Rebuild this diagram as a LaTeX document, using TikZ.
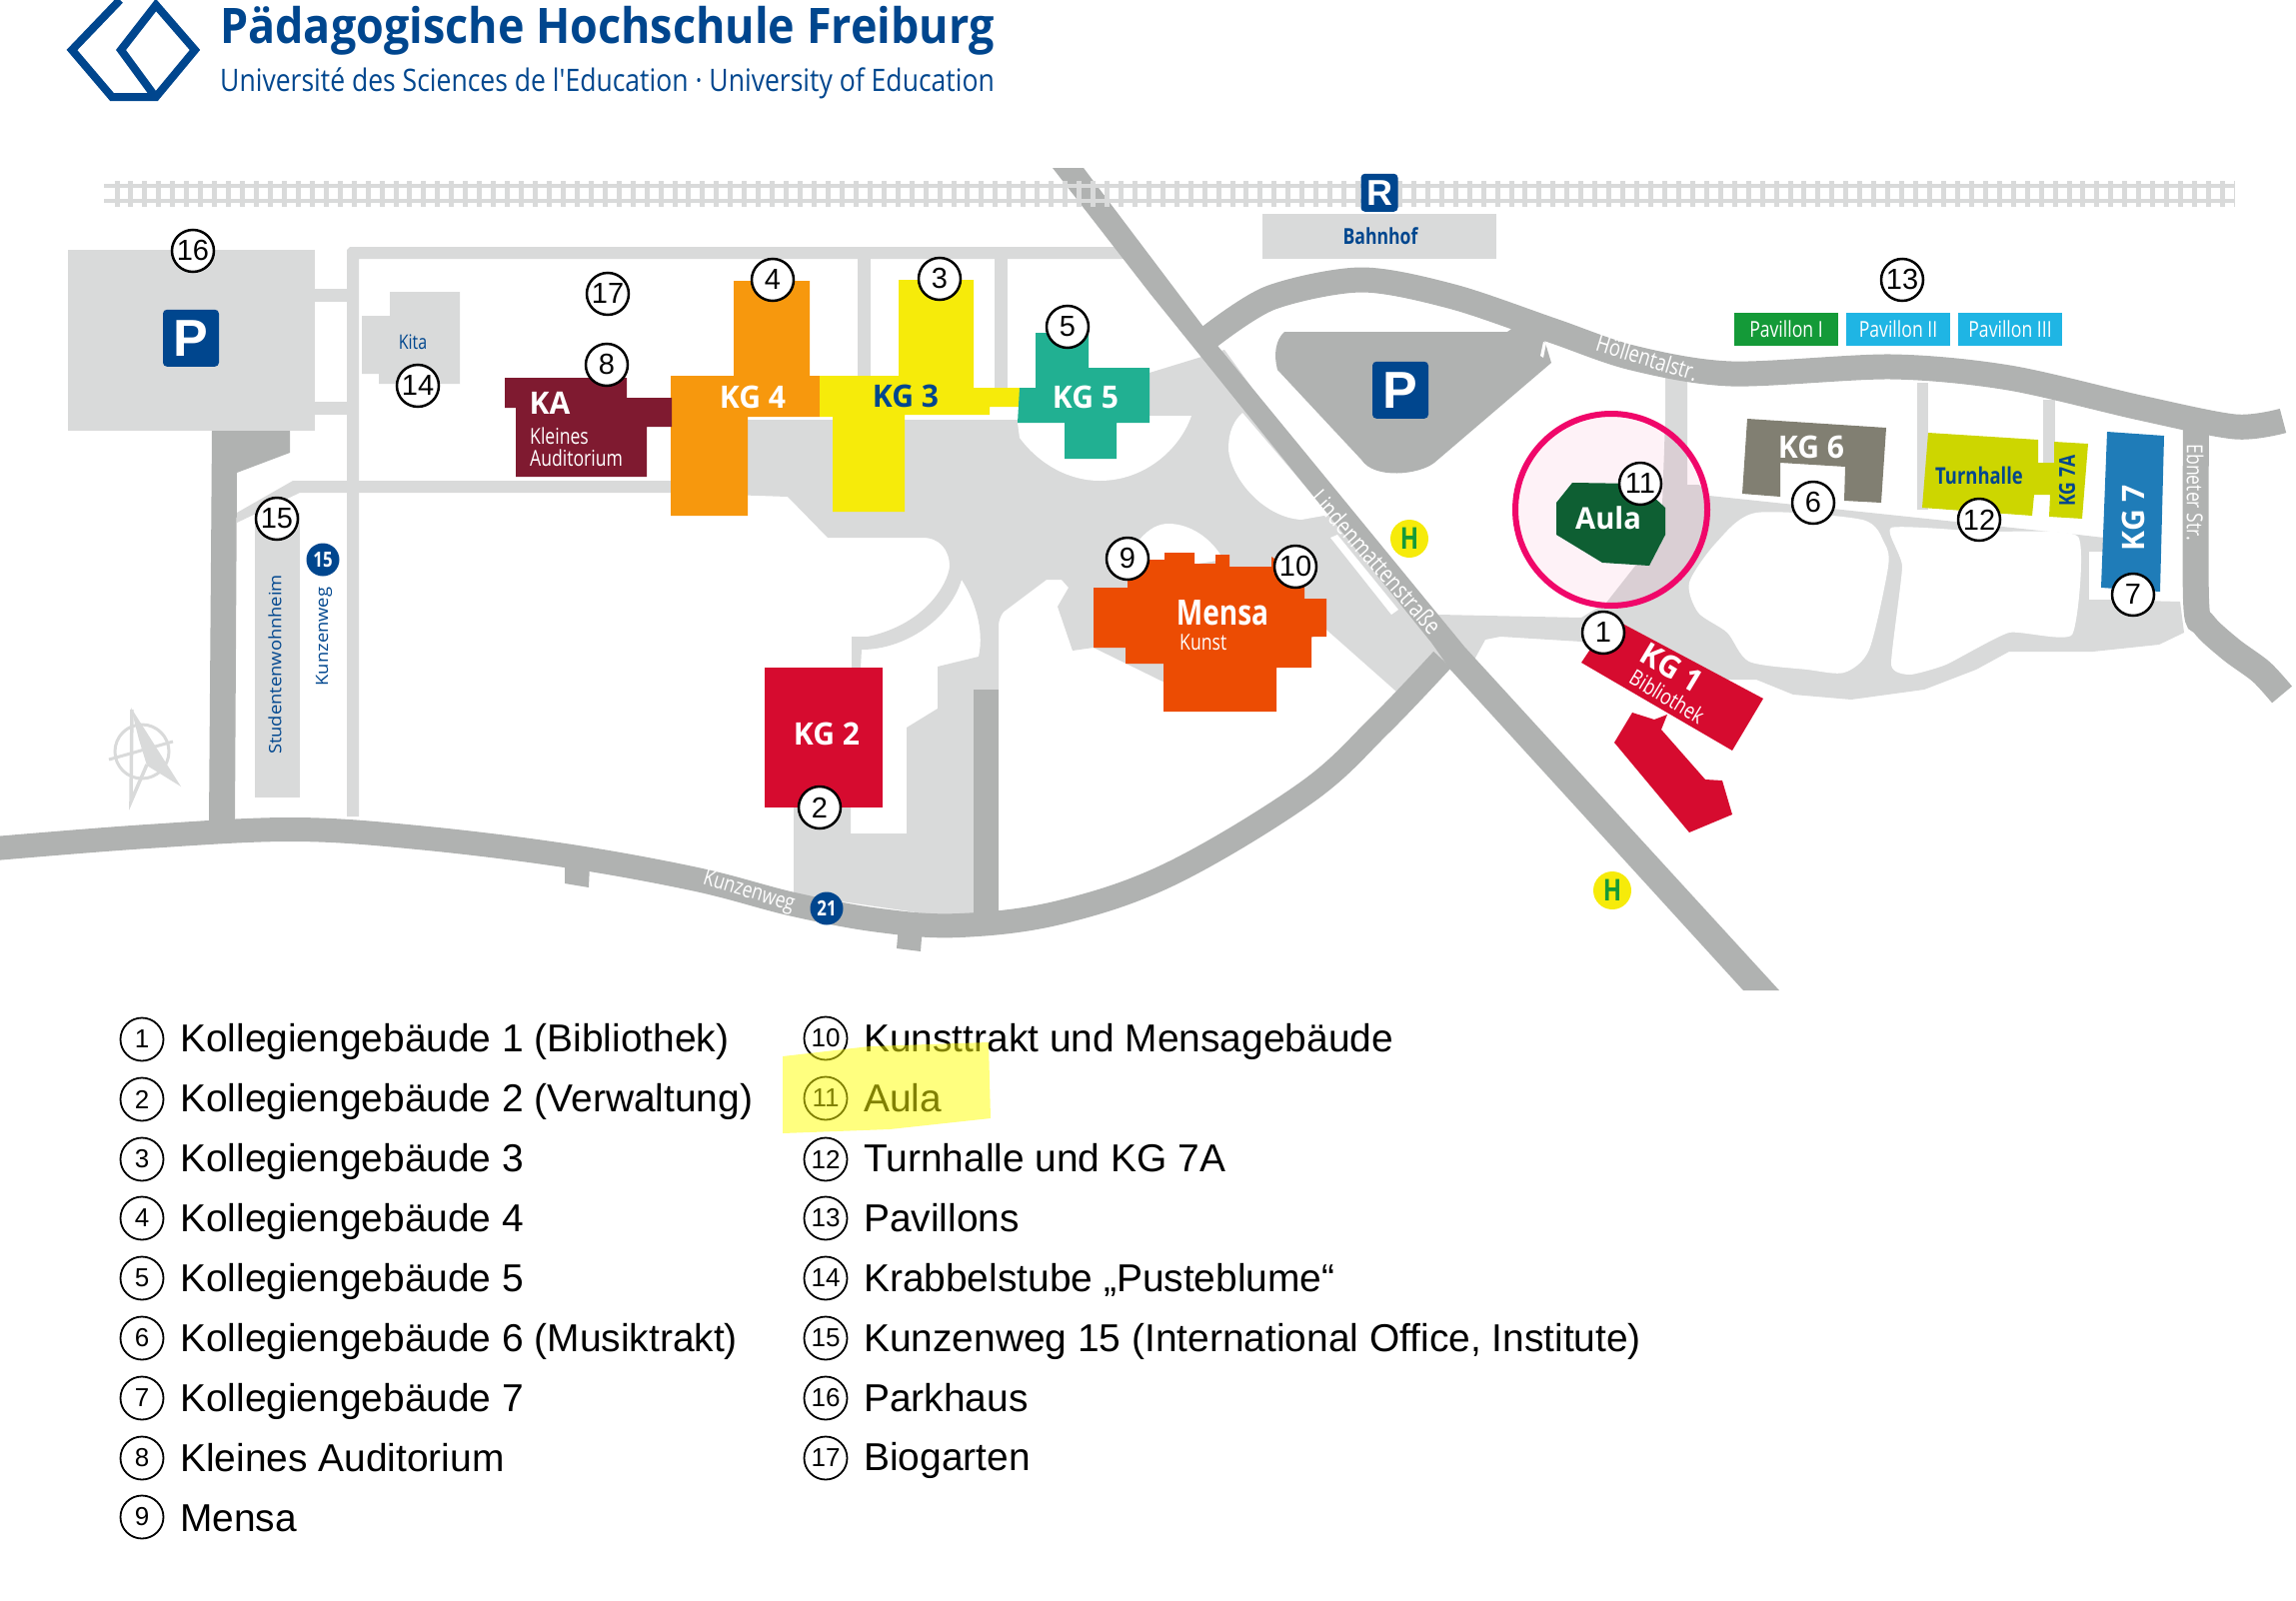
\documentclass[tikz,border=0pt]{standalone}
\usepackage{fontspec}
\setmainfont{Liberation Sans}
\newfontfamily\mapfont[FakeStretch=0.8]{Open Sans}
\newfontfamily\kgfont[FakeStretch=0.97]{Open Sans}
\newfontfamily\titlefont[FakeStretch=0.916]{Open Sans}
\newfontfamily\logofont[FakeStretch=0.856]{Open Sans}
\newfontfamily\widefont[FakeStretch=1.08]{Open Sans}
\newcommand{\sized}[1]{\fontsize{#1}{#1}\selectfont}
\definecolor{roadlight}{HTML}{D9DADA}
\definecolor{roaddark}{HTML}{B0B2B1}
\definecolor{phblue}{HTML}{00468E}
\definecolor{kgorange}{HTML}{F7980D}
\definecolor{kgyellow}{HTML}{F6EB0A}
\definecolor{kgteal}{HTML}{21B092}
\definecolor{kgwine}{HTML}{7F1A30}
\definecolor{kgred}{HTML}{D60B2F}
\definecolor{kgmensa}{HTML}{EC4C03}
\definecolor{kgtaupe}{HTML}{817F72}
\definecolor{kglime}{HTML}{CDD600}
\definecolor{kgblue}{HTML}{1F7CB8}
\definecolor{aulagreen}{HTML}{0E5F33}
\definecolor{pavgreen}{HTML}{149A38}
\definecolor{pavcyan}{HTML}{1FB5E4}
\definecolor{ringpink}{HTML}{F0076A}
\definecolor{hilite}{HTML}{FFFF00}
\tikzset{
  mapnum/.style={circle,draw=black,fill=white,line width=2.5pt,minimum size=42pt,inner sep=0pt,font=\sized{29}},
  legnum/.style={circle,draw=black,line width=1.8pt,minimum size=43pt,inner sep=0pt,font=\sized{26}},
  legtext/.style={anchor=base west,inner sep=0pt,font=\sized{38.9}},
  maplabel/.style={inner sep=0pt,text=white,font=\mapfont\sized{23}},
  kglabel/.style={inner sep=0pt,text=white,font=\kgfont\bfseries\sized{31}},
  stopsign/.style={circle,fill=kgyellow,text=pavgreen,minimum size=38pt,inner sep=0pt,font=\mapfont\bfseries\sized{30}},
  busstop/.style={circle,fill=phblue,text=white,minimum size=33pt,inner sep=0pt,font=\mapfont\bfseries\sized{21}},
  pavbox/.style={minimum width=104pt,minimum height=33pt,inner sep=0pt,text=white,font=\mapfont\sized{22}}
}
\begin{document}
\begin{tikzpicture}[x=1pt,y=-1pt]
\useasboundingbox (0,0) rectangle (2297,1601);
\draw[phblue,line width=8pt,line join=miter] (120,0) -- (72,50) -- (112,97) -- (156,97) -- (195,50) -- (156,5) -- (121,50) -- (154,95);
\node[anchor=base west,inner sep=0pt,text=phblue,font=\titlefont\bfseries\sized{49}] (title) at (220,43) {Pädagogische Hochschule Freiburg};
\node[anchor=base west,inner sep=0pt,text=phblue,font=\logofont\sized{31}] (subtitle) at (220,91) {Université des Sciences de l'Education · University of Education};
\fill[roadlight] (68,250) rectangle (315,431);
\fill[roadlight] (315,289) rectangle (350,302);
\fill[roadlight] (315,402) rectangle (350,415);
\fill[roadlight] (347,250) -- (350,247) -- (1126,247) -- (1126,259) -- (359,259) -- (359,817) -- (347,817) -- cycle;
\fill[roadlight] (858,259) rectangle (871,380);
\fill[roadlight] (995,259) rectangle (1008,390);
\fill[roadlight] (293,481) -- (680,481) -- (680,493) -- (300,493) -- (237,523) -- (237,513) -- cycle;
\fill[roadlight] (390,292) -- (460,292) -- (460,384) -- (379,384) -- (379,374) -- (362,374) -- (362,316) -- (390,316) -- cycle;
\fill[roadlight] (255,513) rectangle (300,798);
\fill[roadlight] (1263,214) rectangle (1497,259);
\fill[roadlight] (671,493) -- (788,497) -- (828,538) -- (923,538) .. controls (940,538) and (950,550) .. (950,567) .. controls (948,585) and (925,625) .. (868,637) -- (852,637) -- (852,668) -- (861,668) -- (862,650) .. controls (905,650) and (950,620) .. (962,580) .. controls (975,600) and (985,630) .. (979,657) -- (938,667) -- (938,709) -- (907,728) -- (907,834) -- (851,834) -- (851,808) -- (794,808) -- (794,895) -- (999,925) -- (999,625) .. controls (1000,617) and (1003,612) .. (1007,610) -- (1047,580) -- (1062,580) -- (1069,588) -- (1058,607) -- (1073,651) -- (1094,648) -- (1200,700) -- (1327,630) -- (1397,692) -- (1450,660) -- (1225,350) -- (1150,373) -- (1150,400) -- (1020,400) -- (1020,420) -- (671,420) -- cycle;
\fill[white] (1018,423) -- (1020,438) .. controls (1040,465) and (1070,481) .. (1100,481) .. controls (1145,481) and (1180,450) .. (1192,416) -- (1018,416) -- cycle;
\fill[white] (1243,413) .. controls (1230,425) and (1229,440) .. (1229,450) .. controls (1232,480) and (1265,518) .. (1302,520) -- (1330,515) -- cycle;
\fill[white] (1128,575) -- (1140,540) .. controls (1150,528) and (1160,524) .. (1169,524) .. controls (1190,524) and (1212,538) .. (1224,560) -- cycle;
\fill[white] (1331,538) -- (1338,535) -- (1399,610) -- (1392,615) -- cycle;
\fill[roadlight] (1666,375) -- (1688,375) -- (1688,485) -- (1700,485) -- (1710,496) -- (2079,535) -- (2105,538) -- (2105,600) -- (2181,602) -- (2185,633) -- (2160,645) -- (2094,652) -- (2010,652) -- (1977,670) -- (1925,690) -- (1852,700) -- (1794,695) -- (1757,680) -- (1640,680) -- (1582,642) -- (1501,637) -- (1486,640) -- (1475,660) -- (1450,640) -- (1439,615) -- (1582,618) -- (1607,603) -- (1662,533) -- (1666,420) -- cycle;
\fill[white] (2090,552) rectangle (2110,600);
\fill[white] plot[smooth cycle,tension=.45] coordinates {(1757,513) (1863,520) (1885,543) (1889,567) (1870,650) (1845,673) (1808,670) (1750,662) (1728,633) (1699,613) (1690,583) (1717,543)};
\fill[white] plot[smooth cycle,tension=.3] coordinates {(1892,528) (1985,532) (2079,537) (2073,635) (2010,633) (1947,665) (1911,675) (1892,665) (1903,567)};
\fill[roadlight] (1918,383) rectangle (1929,510);
\fill[roadlight] (2044,400) rectangle (2056,465);
\draw[roaddark,line width=24pt] plot[smooth,tension=.6] coordinates {(-5,849) (147,837) (293,830) (418,838) (565,856) (697,880) (794,905) (880,921) (960,926) (1060,913) (1172,874) (1307,793) (1381,725) (1443,660)};
\fill[roaddark] (565,860) -- (590,865) -- (589,888) -- (565,884) -- cycle;
\fill[roaddark] (899,925) -- (923,925) -- (921,952) -- (897,949) -- cycle;
\fill[roaddark] (212,431) -- (290,431) -- (290,453) -- (237,473) -- (235,825) -- (209,825) -- cycle;
\fill[roaddark] (974,690) rectangle (999,925);
\draw[roaddark,line width=25pt] plot[smooth,tension=.5] coordinates {(1210,337) (1271,298) (1362,280) (1454,297) (1554,331) (1633,358) (1732,374) (1892,367) (2010,378) (2141,408) (2236,427) (2284,421)};
\draw[roaddark,line width=26pt] plot[smooth,tension=.5] coordinates {(2197,420) (2197,600) (2205,625) (2232,650) (2262,672) (2283,695)};
\fill[roaddark] (1285,332) -- (1508,332) -- (1518,325) -- (1545,340) -- (1552,363) -- (1435,463) .. controls (1420,475) and (1375,480) .. (1362,460) -- (1278,370) .. controls (1274,355) and (1276,340) .. (1285,332) -- cycle;
\fill[white] (1544,342) -- (1547,343) -- (1544,358) -- (1541,356) -- cycle;
\fill[roaddark] (1053,168) -- (1084,168) -- (1219,347) -- (1465,647) -- (1780,991) -- (1744,991) -- (1451,670) -- (1432,643) -- (1150,293) -- cycle;
\draw[roadlight,line width=4pt] (104,186) -- (2235,186);
\draw[roadlight,line width=4pt] (104,201) -- (2235,201);
\draw[roadlight,line width=26pt,dash pattern=on 5pt off 8.95pt] (114.5,194) -- (2235,194);
\fill[ringpink,opacity=.05] (1612,510) circle (96);
\draw[ringpink,line width=6pt] (1612,510) circle (96);
\draw[roadlight,line width=3pt] (142,752) circle (27);
\draw[roadlight,line width=3pt] (109,760) -- (173,742);
\draw[roadlight,line width=3.5pt] (132,710) -- (131,802) -- (147,765);
\fill[roadlight] (131,708) -- (181,787) -- (147,766) -- (139,740) -- cycle;
\fill[kgorange] (734,281) -- (810,281) -- (810,376) -- (820,376) -- (820,417) -- (748,417) -- (748,516) -- (671,516) -- (671,376) -- (734,376) -- cycle;
\fill[kgyellow] (899,280) -- (974,280) -- (974,388) -- (1020,388) -- (1020,407) -- (990,407) -- (990,415) -- (905,415) -- (905,512) -- (833,512) -- (833,417) -- (820,417) -- (820,376) -- (899,376) -- cycle;
\fill[kgteal] (1036,333) -- (1089,333) -- (1089,368) -- (1150,368) -- (1150,423) -- (1117,423) -- (1117,459) -- (1065,459) -- (1065,423) -- (1018,423) -- (1020,388) -- (1036,388) -- cycle;
\fill[kgwine] (505,378) -- (627,378) -- (627,398) -- (672,398) -- (672,427) -- (647,427) -- (647,477) -- (516,477) -- (516,408) -- (505,408) -- cycle;
\fill[kgred] (765,668) rectangle (883,808);
\fill[kgmensa] (1094,588) -- (1128,588) -- (1128,560) -- (1165,560) -- (1165,553) -- (1195,553) -- (1195,564) -- (1216,564) -- (1216,555) -- (1230,555) -- (1230,567) -- (1272,567) -- (1272,557) -- (1305,580) -- (1305,599) -- (1327,599) -- (1327,637) -- (1312,637) -- (1312,668) -- (1277,668) -- (1277,712) -- (1164,712) -- (1164,664) -- (1126,664) -- (1126,648) -- (1094,648) -- cycle;
\fill[kgred] (1582,663) -- (1612,618) -- (1764,699) -- (1733,751) -- cycle;
\fill[kgred] (1633,713) -- (1655,720) -- (1668,715) -- (1662,730) -- (1706,780) -- (1723,781) -- (1733,815) -- (1690,833) -- (1615,743) -- cycle;
\fill[kgtaupe] (1748,419) -- (1887,428) -- (1882,503) -- (1845,501) -- (1846,467) -- (1781,463) -- (1781,497) -- (1743,494) -- cycle;
\fill[kglime] (1929,433) -- (2039,440) -- (2039,463) -- (2055,463) -- (2055,442) -- (2089,444) -- (2083,519) -- (2050,517) -- (2051,495) -- (2035,495) -- (2033,516) -- (1923,508) -- cycle;
\fill[kgblue] (2108,432) -- (2165,436) -- (2161,592) -- (2102,588) -- cycle;
\fill[aulagreen] (1573,483) -- (1640,484) -- (1666,508) -- (1666,535) -- (1650,566) -- (1603,563) -- (1557,535) -- (1557,503) -- cycle;
\node[anchor=south,fill=phblue,rounded corners=4pt,minimum width=56pt,minimum height=57pt,inner sep=0pt,text=white,font=\bfseries\sized{52}] (parkleft) at (191,367) {P};
\node[anchor=south,fill=phblue,rounded corners=4pt,minimum width=56pt,minimum height=57pt,inner sep=0pt,text=white,font=\bfseries\sized{52}] (parkright) at (1401,419) {P};
\node[anchor=south,fill=phblue,rounded corners=4pt,minimum width=37pt,minimum height=38pt,inner sep=0pt,text=white,font=\bfseries\sized{36}] (rail) at (1380,212) {R};
\node[maplabel,text=phblue,font=\mapfont\bfseries\sized{22}] (bahnhof) at (1381,236) {Bahnhof};
\node[maplabel,text=phblue,font=\mapfont\sized{20}] (kita) at (413,342) {Kita};
\node[maplabel,text=phblue,font=\widefont\sized{17},rotate=90] (wohnheim) at (275,665) {Studentenwohnheim};
\node[maplabel,text=phblue,font=\widefont\sized{17},rotate=90] (kunzenwegup) at (324,637) {Kunzenweg};
\node[busstop] (bus15) at (323,560) {15};
\node[busstop] (bus21) at (827,909) {21};
\node[maplabel,rotate=-17,font=\mapfont\sized{22}] (kunzenweg) at (749,893) {Kunzenweg};
\node[maplabel,rotate=-48.5,font=\mapfont\sized{24}] (linden) at (1377,562) {Lindenmattenstraße};
\node[maplabel,rotate=-17,font=\mapfont\sized{23}] (hoellental) at (1648,358) {Höllentalstr.};
\node[maplabel,rotate=-90,font=\mapfont\sized{22}] (ebneter) at (2196,493) {Ebneter Str.};
\node[stopsign] (stopa) at (1410,539) {H};
\node[stopsign] (stopb) at (1613,891) {H};
\node[pavbox,fill=pavgreen] (pav1) at (1787,329.5) {Pavillon I};
\node[pavbox,fill=pavcyan] (pav2) at (1899,329.5) {Pavillon II};
\node[pavbox,fill=pavcyan] (pav3) at (2011,329.5) {Pavillon III};
\node[kglabel] (kg4) at (753,397) {KG 4};
\node[kglabel,text=phblue] (kg3) at (906,396) {KG 3};
\node[kglabel] (kg5) at (1086,397) {KG 5};
\node[kglabel] (kg2) at (827,734) {KG 2};
\node[kglabel] (kg6) at (1812,447) {KG 6};
\node[kglabel,rotate=90] (kg7) at (2134,518) {KG 7};
\node[kglabel,rotate=-31] (kg1) at (1673,668) {KG 1};
\node[maplabel,rotate=-31,font=\mapfont\sized{22}] (biblio) at (1668,697) {Bibliothek};
\node[kglabel,rotate=90,text=phblue,font=\mapfont\bfseries\sized{22}] (kg7a) at (2068,481) {KG 7A};
\node[kglabel,text=phblue,font=\mapfont\bfseries\sized{23}] (turnhalle) at (1980,476) {Turnhalle};
\node[kglabel,font=\kgfont\bfseries\sized{30}] (aula) at (1609,518) {Aula};
\node[kglabel,font=\mapfont\bfseries\sized{35}] (mensa) at (1223,613) {Mensa};
\node[maplabel,anchor=west,font=\mapfont\sized{22}] (kunst) at (1180,643) {Kunst};
\node[kglabel] (ka) at (550,403) {KA};
\node[maplabel,anchor=west,font=\mapfont\sized{22}] (kleines) at (530,436) {Kleines};
\node[maplabel,anchor=west,font=\mapfont\sized{22}] (audit) at (530,458) {Auditorium};
\node[mapnum] (m1) at (1604,633) {1};
\node[mapnum] (m2) at (820,808) {2};
\node[mapnum] (m3) at (940,279) {3};
\node[mapnum] (m4) at (773,280) {4};
\node[mapnum] (m5) at (1068,327) {5};
\node[mapnum] (m6) at (1814,503) {6};
\node[mapnum] (m7) at (2134,595) {7};
\node[mapnum] (m8) at (607,365) {8};
\node[mapnum] (m9) at (1128,559) {9};
\node[mapnum] (m10) at (1296,567) {10};
\node[mapnum] (m11) at (1641,484) {11};
\node[mapnum] (m12) at (1980,520) {12};
\node[mapnum] (m13) at (1903,280) {13};
\node[mapnum] (m14) at (418,386) {14};
\node[mapnum] (m15) at (277,519) {15};
\node[mapnum] (m16) at (193,251) {16};
\node[mapnum] (m17) at (608,294) {17};
\node[legnum] (l1) at (142,1040) {1};
\node[legtext] (t1) at (180,1052) {Kollegiengebäude 1 (Bibliothek)};
\node[legnum] (l2) at (142,1100) {2};
\node[legtext] (t2) at (180,1112) {Kollegiengebäude 2 (Verwaltung)};
\node[legnum] (l3) at (142,1160) {3};
\node[legtext] (t3) at (180,1172) {Kollegiengebäude 3};
\node[legnum] (l4) at (142,1219) {4};
\node[legtext] (t4) at (180,1232) {Kollegiengebäude 4};
\node[legnum] (l5) at (142,1279) {5};
\node[legtext] (t5) at (180,1292) {Kollegiengebäude 5};
\node[legnum] (l6) at (142,1339) {6};
\node[legtext] (t6) at (180,1352) {Kollegiengebäude 6 (Musiktrakt)};
\node[legnum] (l7) at (142,1399) {7};
\node[legtext] (t7) at (180,1412) {Kollegiengebäude 7};
\node[legnum] (l8) at (142,1459) {8};
\node[legtext] (t8) at (180,1472) {Kleines Auditorium};
\node[legnum] (l9) at (142,1518) {9};
\node[legtext] (t9) at (180,1532) {Mensa};
\node[legnum] (l10) at (826,1039) {10};
\node[legtext] (t10) at (864,1052) {Kunsttrakt und Mensagebäude};
\node[legnum] (l11) at (826,1099) {11};
\node[legtext] (t11) at (864,1112) {Aula};
\node[legnum] (l12) at (826,1160) {12};
\node[legtext] (t12) at (864,1172) {Turnhalle und KG 7A};
\node[legnum] (l13) at (826,1219) {13};
\node[legtext] (t13) at (864,1232) {Pavillons};
\node[legnum] (l14) at (826,1279) {14};
\node[legtext] (t14) at (864,1292) {Krabbelstube „Pusteblume“};
\node[legnum] (l15) at (826,1339) {15};
\node[legtext] (t15) at (864,1352) {Kunzenweg 15 (International Office, Institute)};
\node[legnum] (l16) at (826,1399) {16};
\node[legtext] (t16) at (864,1412) {Parkhaus};
\node[legnum] (l17) at (826,1459) {17};
\node[legtext] (t17) at (864,1471) {Biogarten};
\fill[hilite,opacity=.5] (783,1057) -- (870,1047) -- (989,1043) -- (991,1119) -- (890,1130) -- (783,1134) -- cycle;
\end{tikzpicture}
\end{document}
